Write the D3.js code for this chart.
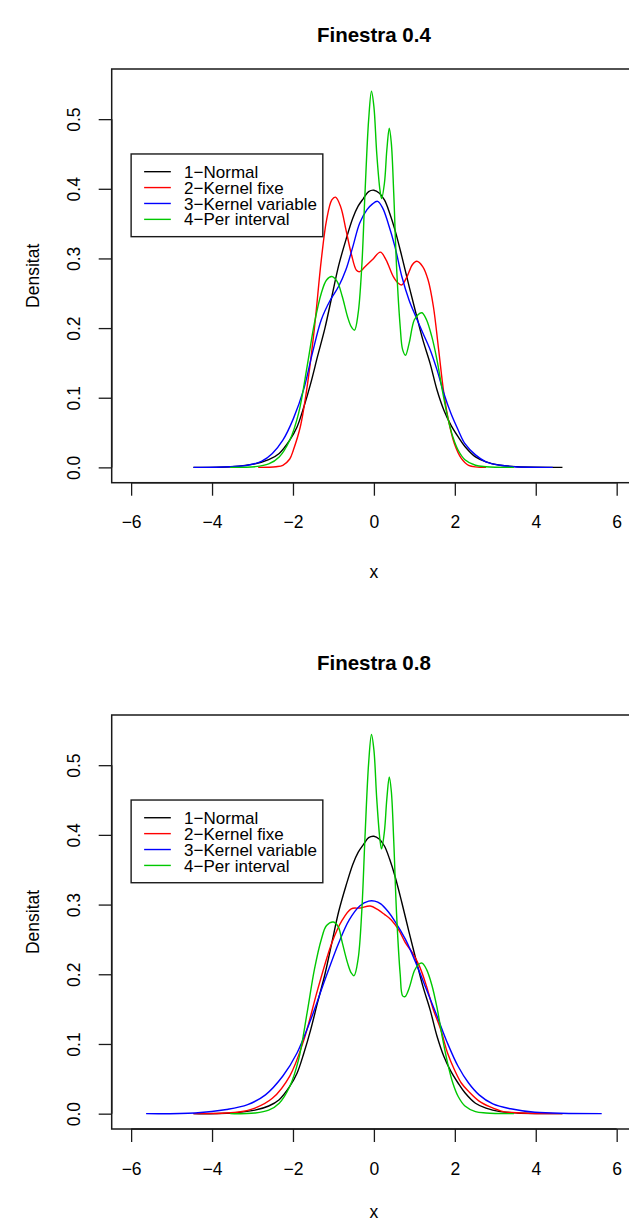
<!DOCTYPE html>
<html>
<head>
<meta charset="utf-8">
<script src="https://cdn.jsdelivr.net/npm/d3@7"></script>
<style>
  html, body { margin: 0; padding: 0; background: #ffffff; }
  svg { display: block; }
  text { font-family: "Liberation Sans", Arial, Helvetica, sans-serif; fill: #000; }
</style>
</head>
<body>
<div id="chart"></div>
<script>
// ---- Axis ticks and legend ----
const xTicks = [-6, -4, -2, 0, 2, 4, 6];
const yTicks = [0, 0.1, 0.2, 0.3, 0.4, 0.5];
const legendLabels = ["1\u2212Normal", "2\u2212Kernel fixe", "3\u2212Kernel variable", "4\u2212Per interval"];
const seriesColors = ["#000000", "#FF0000", "#0000FF", "#00C800"];
const panelTitles = ["Finestra 0.4", "Finestra 0.8"];

// ---- 1-Normal (same in both panels) ----
const normalX = [-4.46, -3.5, -2.94, -2.6, -2.34, -2.08, -1.9, -1.73, -1.56, -1.39, -1.21, -1.04, -0.87, -0.69, -0.52, -0.39, -0.26, -0.13, 0, 0.13, 0.26, 0.39, 0.52, 0.69, 0.87, 1.04, 1.21, 1.39, 1.56, 1.73, 1.9, 2.08, 2.25, 2.51, 2.77, 3.12, 3.55, 4.66];
const normalY = [0, 0.001, 0.005, 0.011, 0.02, 0.039, 0.058, 0.087, 0.121, 0.16, 0.2, 0.245, 0.29, 0.327, 0.358, 0.375, 0.386, 0.396, 0.398, 0.394, 0.384, 0.365, 0.341, 0.303, 0.26, 0.221, 0.183, 0.149, 0.111, 0.082, 0.061, 0.044, 0.03, 0.015, 0.008, 0.003, 0.001, 0];

// ---- Window 0.4 ----
const fixe04X = [-2.86, -2.42, -2.25, -2.08, -1.99, -1.82, -1.65, -1.47, -1.3, -1.17, -1.04, -0.95, -0.82, -0.69, -0.56, -0.43, -0.35, -0.22, -0.04, 0.16, 0.3, 0.48, 0.61, 0.69, 0.82, 0.95, 1.06, 1.21, 1.34, 1.47, 1.6, 1.73, 1.86, 1.99, 2.16, 2.34, 2.77];
const fixe04Y = [0, 0.001, 0.003, 0.012, 0.025, 0.058, 0.116, 0.2, 0.298, 0.355, 0.384, 0.388, 0.374, 0.341, 0.307, 0.283, 0.281, 0.288, 0.298, 0.309, 0.298, 0.274, 0.264, 0.262, 0.274, 0.291, 0.296, 0.288, 0.269, 0.231, 0.169, 0.106, 0.063, 0.034, 0.013, 0.003, 0];

const var04X = [-4.46, -3.55, -3.12, -2.77, -2.51, -2.25, -1.99, -1.73, -1.52, -1.3, -1.08, -0.87, -0.69, -0.52, -0.35, -0.17, -0.04, 0.09, 0.22, 0.35, 0.52, 0.69, 0.87, 1.04, 1.21, 1.39, 1.56, 1.73, 1.9, 2.08, 2.25, 2.51, 2.77, 3.12, 3.46, 4.42];
const var04Y = [0, 0.001, 0.003, 0.009, 0.02, 0.039, 0.07, 0.113, 0.164, 0.212, 0.24, 0.26, 0.284, 0.317, 0.351, 0.37, 0.378, 0.382, 0.372, 0.351, 0.317, 0.274, 0.24, 0.216, 0.193, 0.169, 0.14, 0.106, 0.078, 0.054, 0.034, 0.018, 0.008, 0.003, 0.001, 0];

const interval04X = [-3.55, -2.94, -2.6, -2.34, -2.08, -1.86, -1.65, -1.47, -1.3, -1.17, -1.04, -0.91, -0.78, -0.65, -0.56, -0.48, -0.39, -0.3, -0.22, -0.13, -0.06, 0, 0.07, 0.15, 0.19, 0.26, 0.32, 0.38, 0.43, 0.49, 0.56, 0.65, 0.71, 0.78, 0.87, 1.0, 1.13, 1.19, 1.3, 1.43, 1.56, 1.69, 1.82, 1.95, 2.08, 2.25, 2.51, 2.77, 3.46];
const interval04Y = [0, 0.001, 0.005, 0.015, 0.039, 0.078, 0.145, 0.207, 0.25, 0.269, 0.274, 0.267, 0.245, 0.216, 0.202, 0.197, 0.221, 0.288, 0.394, 0.499, 0.54, 0.518, 0.451, 0.398, 0.386, 0.408, 0.456, 0.487, 0.466, 0.394, 0.288, 0.202, 0.169, 0.161, 0.178, 0.212, 0.221, 0.222, 0.212, 0.188, 0.154, 0.111, 0.073, 0.044, 0.025, 0.011, 0.003, 0.001, 0];

// ---- Window 0.8 ----
const fixe08X = [-4.46, -3.38, -2.94, -2.51, -2.08, -1.73, -1.39, -1.04, -0.78, -0.56, -0.35, -0.09, 0.09, 0.26, 0.43, 0.61, 0.78, 0.95, 1.13, 1.3, 1.47, 1.65, 1.82, 1.99, 2.16, 2.34, 2.6, 2.86, 3.2, 3.64, 4.66];
const fixe08Y = [0, 0.002, 0.008, 0.022, 0.054, 0.106, 0.178, 0.245, 0.278, 0.294, 0.295, 0.298, 0.293, 0.286, 0.278, 0.264, 0.245, 0.231, 0.211, 0.183, 0.149, 0.121, 0.087, 0.063, 0.044, 0.032, 0.018, 0.01, 0.003, 0.001, 0];

const var08X = [-5.63, -4.42, -3.64, -3.12, -2.68, -2.25, -1.9, -1.56, -1.21, -0.87, -0.61, -0.35, -0.13, 0.02, 0.17, 0.35, 0.52, 0.78, 1.04, 1.3, 1.56, 1.82, 2.08, 2.34, 2.6, 2.94, 3.38, 3.98, 5.63];
const var08Y = [0, 0.001, 0.006, 0.013, 0.027, 0.054, 0.087, 0.135, 0.192, 0.245, 0.278, 0.298, 0.305, 0.305, 0.301, 0.29, 0.276, 0.25, 0.216, 0.178, 0.14, 0.101, 0.068, 0.044, 0.027, 0.014, 0.007, 0.002, 0];

const interval08X = [-3.55, -2.94, -2.6, -2.34, -2.08, -1.86, -1.65, -1.47, -1.3, -1.17, -1.0, -0.88, -0.78, -0.65, -0.56, -0.49, -0.39, -0.3, -0.22, -0.13, -0.06, 0, 0.07, 0.15, 0.19, 0.26, 0.32, 0.38, 0.43, 0.49, 0.56, 0.65, 0.71, 0.77, 0.87, 1.0, 1.1, 1.19, 1.3, 1.43, 1.56, 1.69, 1.82, 1.95, 2.08, 2.25, 2.51, 2.77, 3.46];
const interval08Y = [0, 0.001, 0.005, 0.015, 0.039, 0.078, 0.145, 0.207, 0.25, 0.27, 0.275, 0.268, 0.245, 0.216, 0.202, 0.198, 0.222, 0.29, 0.397, 0.503, 0.544, 0.522, 0.452, 0.393, 0.38, 0.405, 0.452, 0.483, 0.463, 0.392, 0.287, 0.2, 0.169, 0.168, 0.18, 0.205, 0.214, 0.216, 0.207, 0.185, 0.152, 0.11, 0.073, 0.044, 0.025, 0.011, 0.003, 0.001, 0];

// ---- Layout ----
const W = 629, H = 1232;
const boxLeft = 111.7, boxRight = 636.1;
const panels = [
  { title: panelTitles[0], top: 69, bottom: 482.7, titleY: 42, xlabY: 577.7,
    series: [[normalX, normalY], [fixe04X, fixe04Y], [var04X, var04Y], [interval04X, interval04Y]] },
  { title: panelTitles[1], top: 715, bottom: 1129, titleY: 670, xlabY: 1217.5,
    series: [[normalX, normalY], [fixe08X, fixe08Y], [var08X, var08Y], [interval08X, interval08Y]] }
];

const svg = d3.select("#chart").append("svg")
  .attr("width", W).attr("height", H)
  .attr("viewBox", `0 0 ${W} ${H}`);

const x = d3.scaleLinear().domain([-6.48, 6.48]).range([boxLeft, boxRight]);
const fontSize = 17.5;

panels.forEach(p => {
  const y = d3.scaleLinear().domain([-0.022, 0.572]).range([p.bottom, p.top]);
  const g = svg.append("g");

  // density curves
  const line = d3.line()
    .x(d => x(d[0])).y(d => y(d[1]))
    .curve(d3.curveCatmullRom.alpha(0.5));
  p.series.forEach((s, i) => {
    const pts = s[0].map((xv, k) => [xv, s[1][k]]);
    g.append("path")
      .datum(pts)
      .attr("d", line)
      .attr("fill", "none")
      .attr("stroke", seriesColors[i])
      .attr("stroke-width", 1.4)
      .attr("stroke-linejoin", "round");
  });

  // plot frame
  g.append("rect")
    .attr("x", boxLeft).attr("y", p.top)
    .attr("width", boxRight - boxLeft).attr("height", p.bottom - p.top)
    .attr("fill", "none").attr("stroke", "#1a1a1a").attr("stroke-width", 1.5);

  // x axis
  const gx = g.append("g")
    .attr("transform", `translate(0,${p.bottom})`)
    .call(d3.axisBottom(x).tickValues(xTicks).tickSize(13).tickPadding(20).tickFormat(d3.format("d")));
  gx.select(".domain").attr("stroke", "#1a1a1a").attr("stroke-width", 1.5)
    .attr("d", `M${x(xTicks[0])},0H${x(xTicks[xTicks.length - 1])}`);
  gx.selectAll(".tick line").attr("stroke", "#1a1a1a").attr("stroke-width", 1.3);
  gx.selectAll(".tick text")
    .attr("font-size", fontSize).attr("font-family", null)
    .attr("y", 45.6).attr("dy", null).attr("fill", "#000");

  // y axis with labels turned parallel to the axis
  const gy = g.append("g")
    .attr("transform", `translate(${boxLeft},0)`)
    .call(d3.axisLeft(y).tickValues(yTicks).tickSize(13).tickFormat(d3.format(".1f")));
  gy.select(".domain").attr("stroke", "#1a1a1a").attr("stroke-width", 1.5)
    .attr("d", `M0,${y(yTicks[0])}V${y(yTicks[yTicks.length - 1])}`);
  gy.selectAll(".tick line").attr("stroke", "#1a1a1a").attr("stroke-width", 1.3);
  gy.selectAll(".tick text")
    .attr("font-size", fontSize).attr("font-family", null)
    .attr("x", null).attr("dy", null)
    .attr("text-anchor", "middle").attr("fill", "#000")
    .attr("transform", "translate(-31.4,0) rotate(-90)");

  // titles and axis names
  g.append("text")
    .attr("x", (boxLeft + boxRight) / 2).attr("y", p.titleY)
    .attr("text-anchor", "middle").attr("font-weight", "bold")
    .attr("font-size", 20.5)
    .text(p.title);
  g.append("text")
    .attr("x", (boxLeft + boxRight) / 2).attr("y", p.xlabY)
    .attr("text-anchor", "middle").attr("font-size", fontSize)
    .text("x");
  g.append("text")
    .attr("transform", `translate(38.5,${(p.top + p.bottom) / 2}) rotate(-90)`)
    .attr("text-anchor", "middle").attr("font-size", fontSize)
    .text("Densitat");

  // legend anchored at (-6, 0.45)
  const lx = x(-6), ly = y(0.45);
  const lg = g.append("g").attr("transform", `translate(${lx},${ly})`);
  lg.append("rect")
    .attr("x", 0).attr("y", 0).attr("width", 191.7).attr("height", 82.7)
    .attr("fill", "#fff").attr("stroke", "#1a1a1a").attr("stroke-width", 1.4);
  legendLabels.forEach((lab, i) => {
    const cy = 17.7 + i * 15.9;
    lg.append("line")
      .attr("x1", 13).attr("x2", 39.7).attr("y1", cy).attr("y2", cy)
      .attr("stroke", seriesColors[i]).attr("stroke-width", 1.4);
    lg.append("text")
      .attr("x", 53).attr("y", cy + 6.1)
      .attr("font-size", 17).text(lab);
  });
});
</script>
</body>
</html>
